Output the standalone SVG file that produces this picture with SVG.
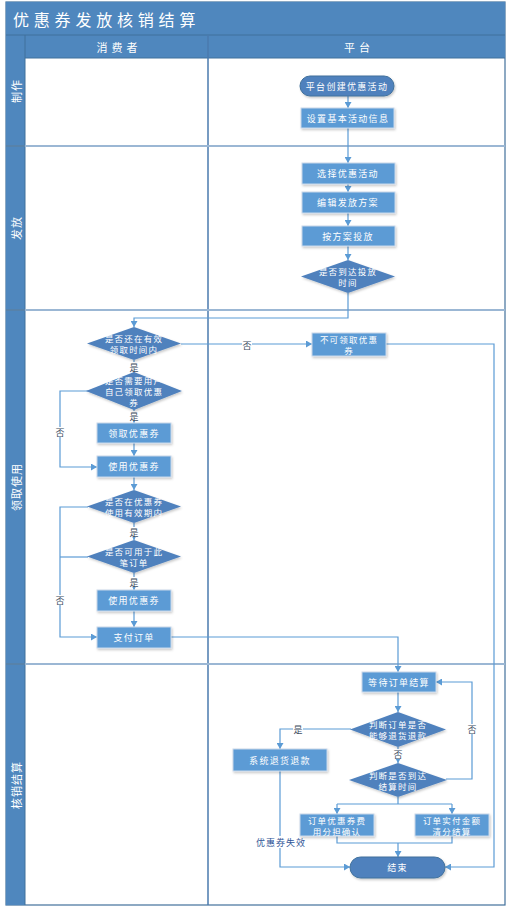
<svg xmlns="http://www.w3.org/2000/svg" width="526" height="911" viewBox="0 0 526 911">
<style>
text{font-family:"Noto Sans CJK SC","Noto Sans",sans-serif;}
.box{fill:#5B9BD5;stroke:#C9D8EA;stroke-width:1;filter:url(#sh);}
.dia{fill:#4F81BD;filter:url(#sh);}
.term{fill:#4F81BD;stroke:#41719C;stroke-width:1;filter:url(#sh);}
.nt{fill:#fff;font-size:9px;letter-spacing:1.3px;text-anchor:middle;dominant-baseline:central;}
.n2{fill:#fff;font-size:8.5px;letter-spacing:1.2px;text-anchor:middle;dominant-baseline:central;}
.ln{fill:none;stroke:#5B9BD5;stroke-width:1.2;}
.arr{marker-end:url(#ah);}
.lbl{fill:#3B4B5E;font-size:9px;text-anchor:middle;dominant-baseline:central;}
.lbg{fill:#fff;}
.hdr{fill:#4F87BE;}
.ht{fill:#fff;font-size:11px;letter-spacing:4px;text-anchor:middle;dominant-baseline:central;}
.lt{fill:#fff;font-size:11px;letter-spacing:1px;text-anchor:middle;dominant-baseline:central;}
</style>
<defs>
<marker id="ah" markerUnits="userSpaceOnUse" markerWidth="7" markerHeight="7" refX="6" refY="3.5" orient="auto">
<path d="M0,0 L6,3.5 L0,7 z" fill="#5B9BD5"/>
</marker>
<filter id="sh" x="-10%" y="-10%" width="130%" height="140%">
<feDropShadow dx="1" dy="1.5" stdDeviation="1" flood-color="#000" flood-opacity="0.22"/>
</filter>
</defs>

<g id="frame">
<rect x="6" y="2" width="499" height="903" fill="#fff" stroke="#41719C" stroke-width="1.2"/>
<rect class="hdr" x="6" y="2" width="499" height="33"/>
<text x="13" y="19" fill="#fff" font-size="16" letter-spacing="4.8" dominant-baseline="central" font-family="Noto Sans CJK SC, sans-serif">优惠券发放核销结算</text>
<rect class="hdr" x="6" y="35" width="499" height="23"/>
<rect class="hdr" x="6" y="35" width="19" height="870"/>
<line x1="6" y1="35" x2="505" y2="35" stroke="#41719C" stroke-width="1"/>
<line x1="25" y1="58" x2="505" y2="58" stroke="#41719C" stroke-width="1"/>
<line x1="25" y1="35" x2="25" y2="905" stroke="#41719C" stroke-width="1"/>
<line x1="208" y1="35" x2="208" y2="905" stroke="#4A7AAE" stroke-width="1.5"/>
<line x1="6" y1="146" x2="505" y2="146" stroke="#9BB7D4" stroke-width="2"/>
<line x1="6" y1="310" x2="505" y2="310" stroke="#9BB7D4" stroke-width="2"/>
<line x1="6" y1="664" x2="505" y2="664" stroke="#9BB7D4" stroke-width="2"/>
<line x1="6" y1="146" x2="25" y2="146" stroke="#41719C" stroke-width="1.5"/>
<line x1="6" y1="310" x2="25" y2="310" stroke="#41719C" stroke-width="1.5"/>
<line x1="6" y1="664" x2="25" y2="664" stroke="#41719C" stroke-width="1.5"/>
<text class="ht" x="119" y="47">消费者</text>
<text class="ht" x="359" y="47">平台</text>
<text class="lt" transform="translate(16,91) rotate(-90)">制作</text>
<text class="lt" transform="translate(16,228) rotate(-90)">发放</text>
<text class="lt" transform="translate(16,487) rotate(-90)">领取使用</text>
<text class="lt" transform="translate(16,785) rotate(-90)">核销结算</text>
</g>

<g id="connectors">
<path class="ln arr" d="M348,96 V108"/>
<path class="ln arr" d="M348,128 V163"/>
<path class="ln arr" d="M348,184 V192"/>
<path class="ln arr" d="M348,213 V226"/>
<path class="ln arr" d="M348,246 V260"/>
<path class="ln arr" d="M348,293 V318 H134 V327"/>
<path class="ln arr" d="M181,344 H312"/>
<path class="ln arr" d="M134,360 V373"/>
<path class="ln arr" d="M134,409 V423"/>
<path class="ln arr" d="M88,391 H60 V467 H97"/>
<path class="ln arr" d="M134,443 V456"/>
<path class="ln arr" d="M134,477 V490"/>
<path class="ln arr" d="M134,523 V540"/>
<path class="ln arr" d="M134,573 V590"/>
<path class="ln arr" d="M134,611 V627"/>
<path class="ln arr" d="M88,507 H60 V637 H97"/>
<path class="ln" d="M88,557 H60"/>
<path class="ln arr" d="M171,637 H398 V672"/>
<path class="ln arr" d="M398,692 V712"/>
<path class="ln arr" d="M351,729 H280 V749"/>
<path class="ln arr" d="M398,747 V763"/>
<path class="ln arr" d="M446,779 H472 V682 H436"/>
<path class="ln" d="M398,797 V804 M337,804 H452"/>
<path class="ln arr" d="M337,804 V814"/>
<path class="ln arr" d="M452,804 V814"/>
<path class="ln" d="M337,836 V843 H452 V836"/>
<path class="ln arr" d="M398,843 V857"/>
<path class="ln arr" d="M280,771 V867 H350"/>
<path class="ln arr" d="M386,344 H494 V867 H445"/>
<rect class="lbg" x="242" y="339" width="10" height="11"/>
<text class="lbl" x="247" y="345">否</text>
<rect class="lbg" x="129" y="362" width="10" height="10"/>
<text class="lbl" x="134" y="367">是</text>
<rect class="lbg" x="129" y="411" width="10" height="10"/>
<text class="lbl" x="134" y="416">是</text>
<rect class="lbg" x="55" y="427" width="10" height="10"/>
<text class="lbl" x="60" y="432">否</text>
<rect class="lbg" x="129" y="527" width="10" height="10"/>
<text class="lbl" x="134" y="532">是</text>
<rect class="lbg" x="129" y="577" width="10" height="10"/>
<text class="lbl" x="134" y="582">是</text>
<rect class="lbg" x="55" y="595" width="10" height="10"/>
<text class="lbl" x="60" y="600">否</text>
<rect class="lbg" x="293" y="724" width="10" height="10"/>
<text class="lbl" x="298" y="729">是</text>
<rect class="lbg" x="393" y="749" width="10" height="10"/>
<text class="lbl" x="398" y="754">否</text>
<rect class="lbg" x="467" y="724" width="10" height="10"/>
<text class="lbl" x="472" y="729">否</text>
<rect class="lbg" x="254" y="836" width="54" height="12"/>
<text x="281" y="842" fill="#2F5597" font-size="9" letter-spacing="1" text-anchor="middle" dominant-baseline="central" font-family="Noto Sans CJK SC, sans-serif">优惠券失效</text>
</g>

<g id="n1"><rect class="term" x="300" y="76" width="94" height="20" rx="10"/><text class="nt" x="347" y="86">平台创建优惠活动</text></g>
<g id="n2"><rect class="box" x="301" y="108" width="93" height="20"/><text class="nt" x="348" y="118">设置基本活动信息</text></g>
<g id="n3"><rect class="box" x="302" y="163" width="93" height="21"/><text class="nt" x="348" y="173.5">选择优惠活动</text></g>
<g id="n4"><rect class="box" x="302" y="192" width="93" height="21"/><text class="nt" x="348" y="202.5">编辑发放方案</text></g>
<g id="n5"><rect class="box" x="302" y="226" width="93" height="20"/><text class="nt" x="348" y="236">按方案投放</text></g>
<g id="n6"><polygon class="dia" points="348,260 395,276.5 348,293 301,276.5"/><text class="n2" x="348" y="271">是否到达投放</text><text class="n2" x="348" y="282">时间</text></g>
<g id="n7"><polygon class="dia" points="134,327 181,343.5 134,360 87,343.5"/><text class="n2" x="134" y="338">是否还在有效</text><text class="n2" x="134" y="349">领取时间内</text></g>
<g id="n8"><rect class="box" x="312" y="333" width="74" height="23"/><text class="n2" x="349" y="339">不可领取优惠</text><text class="n2" x="349" y="350">券</text></g>
<g id="n9"><polygon class="dia" points="134,372 182,391 134,410 86,391"/><text class="n2" x="134" y="380">是否需要用户</text><text class="n2" x="134" y="391">自己领取优惠</text><text class="n2" x="134" y="402">券</text></g>
<g id="n10"><rect class="box" x="97" y="423" width="74" height="20"/><text class="nt" x="134" y="433">领取优惠券</text></g>
<g id="n11"><rect class="box" x="97" y="456" width="74" height="21"/><text class="nt" x="134" y="466.5">使用优惠券</text></g>
<g id="n12"><polygon class="dia" points="134,490 181,506.5 134,523 87,506.5"/><text class="n2" x="134" y="501">是否在优惠券</text><text class="n2" x="134" y="512">使用有效期内</text></g>
<g id="n13"><polygon class="dia" points="134,540 181,556.5 134,573 87,556.5"/><text class="n2" x="134" y="551">是否可用于此</text><text class="n2" x="134" y="562">笔订单</text></g>
<g id="n14"><rect class="box" x="97" y="590" width="74" height="21"/><text class="nt" x="134" y="600.5">使用优惠券</text></g>
<g id="n15"><rect class="box" x="97" y="627" width="74" height="21"/><text class="nt" x="134" y="637.5">支付订单</text></g>
<g id="n16"><rect class="box" x="362" y="672" width="74" height="20"/><text class="nt" x="399" y="682">等待订单结算</text></g>
<g id="n17"><polygon class="dia" points="398,712 446,729.5 398,747 350,729.5"/><text class="n2" x="398" y="724">判断订单是否</text><text class="n2" x="398" y="735">能够退货退款</text></g>
<g id="n18"><rect class="box" x="233" y="749" width="94" height="22"/><text class="nt" x="280" y="760">系统退货退款</text></g>
<g id="n19"><polygon class="dia" points="398,763 447,780 398,797 349,780"/><text class="n2" x="398" y="774.5">判断是否到达</text><text class="n2" x="398" y="785.5">结算时间</text></g>
<g id="n20"><rect class="box" x="300" y="814" width="74" height="22"/><text class="n2" x="337" y="819.5">订单优惠券费</text><text class="n2" x="337" y="830.5">用分担确认</text></g>
<g id="n21"><rect class="box" x="415" y="814" width="74" height="22"/><text class="n2" x="452" y="819.5">订单实付金额</text><text class="n2" x="452" y="830.5">清分结算</text></g>
<g id="n22"><rect class="term" x="350" y="857" width="95" height="21" rx="10.5"/><text class="nt" x="397.5" y="867.5">结束</text></g>
</svg>
